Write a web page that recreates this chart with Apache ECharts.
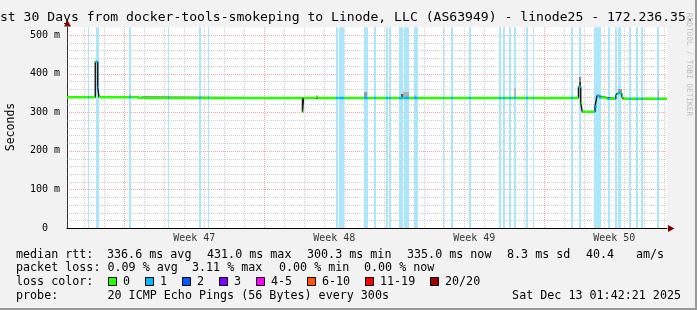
<!DOCTYPE html>
<html><head><meta charset="utf-8">
<style>html,body{margin:0;padding:0;background:#f2f2f2}#c{width:697px;height:310px}</style>
<script src="https://cdn.jsdelivr.net/npm/echarts@6/dist/echarts.min.js"></script>
</head><body><div id="c"></div>
<script>
// ---- data (x in days since start of the 30-day window, y in ms) ----
const xMaxDays = 30;
const yMaxMs = 520;
const weekLabels = ['Week 47', 'Week 48', 'Week 49', 'Week 50'];
const weekCenters = [6.365, 13.365, 20.365, 27.365];
const firstDayLine = 0.865;   // first midnight line after window start
const firstWeekLine = 2.865;  // first week boundary

// median RTT as step function: value from medianDays[i] until medianDays[i+1]
const medianDays = [0, 1.415, 1.535, 1.60, 3.565, 3.70, 3.815, 11.775, 11.825, 12.45, 12.55,
  25.575, 25.685, 25.765, 26.40, 26.50, 26.60, 26.975, 27.435, 27.515, 27.735, 27.815, 30];
const medianMs = [339, 431, 366, 339, 337, 338.5, 337, 300.3, 337, 340, 337,
  366, 324, 301, 314, 343, 338, 335, 342, 349, 341, 335, 335];

// periods with packet loss (1/20)
const lossStart = [1.05, 1.45, 3.10, 5.05, 6.60, 7.05, 13.45, 13.59, 14.87, 15.35, 15.95, 16.10, 16.60, 16.87, 17.34,
  18.82, 19.20, 20.10, 21.59, 21.82, 22.10, 22.34, 22.94, 23.29, 25.20, 25.60, 26.37, 27.05, 27.40, 27.57,
  28.10, 28.45, 28.70, 29.52];
const lossEnd = [1.10, 1.60, 3.20, 5.10, 6.72, 7.10, 13.54, 13.85, 15.05, 15.45, 16.04, 16.19, 16.79, 17.09, 17.54,
  18.87, 19.30, 20.19, 21.70, 21.90, 22.20, 22.44, 23.05, 23.35, 25.32, 25.70, 26.70, 27.17, 27.50, 27.72,
  28.20, 28.55, 28.80, 29.60];

// smoke (ping spread) pieces
const smokeStart = [3.10, 14.87, 16.70, 16.82, 17.34, 22.35, 25.575, 25.575, 27.56, 29.55];
const smokeEnd   = [3.20, 15.02, 16.82, 17.09, 17.45, 22.43, 25.685, 25.685, 27.73, 29.60];
const smokeLow   = [339, 338, 338, 338, 337, 338, 366, 378, 349, 336];
const smokeHigh  = [346, 352, 347, 352, 343, 362, 378, 391, 360, 357];
const smokeGray  = [176, 150, 90, 175, 175, 185, 60, 130, 150, 170];

// legend texts
const titleText = 'Last 30 Days from docker-tools-smokeping to Linode, LLC (AS63949) - linode25 - 172.236.35.';
const rttRow = ['median rtt:', '336.6 ms avg', '431.0 ms max', '300.3 ms min', '335.0 ms now', '8.3 ms sd', '40.4', 'am/s'];
const lossRow = ['packet loss:', '0.09 % avg', '3.11 % max', '0.00 % min', '0.00 % now'];
const lossColorLabels = ['0', '1', '2', '3', '4-5', '6-10', '11-19', '20/20'];
const lossColors = ['#26ff00', '#00b8ff', '#0059ff', '#7e00ff', '#ff00ff', '#ff5500', '#ff0000', '#a10000'];
const probeRow = ['probe:', '20 ICMP Echo Pings (56 Bytes) every 300s'];
const dateText = 'Sat Dec 13 01:42:21 2025';

// ---- layout ----
const MONO = "'DejaVu Sans Mono', monospace";
const rttX = [16, 107, 207, 307, 407, 507, 586, 636];
const lossX = [16, 107.5, 192, 279, 364];
const boxX = [108, 145, 182, 219, 256, 307, 365, 430];
const rowY = [254.5, 268, 282, 295.5];
const LEG = 11.7;

const chart = echarts.init(document.getElementById('c'), null, {renderer: 'canvas'});

const gridXData = [];
for (let k = 0; firstDayLine + k < xMaxDays; k++) {
  gridXData.push([firstDayLine + k, ((k - 2) % 7 === 0) ? 1 : 0]);
}
const gridYData = [];
for (let v = 20; v <= 500; v += 20) gridYData.push([v, v % 100 === 0 ? 1 : 0]);

const stepData = medianDays.map((d, i) => [d, medianMs[i]]);
const colorData = [];
for (let i = 0; i < medianDays.length - 1; i++) {
  colorData.push([medianDays[i], medianMs[i]], [medianDays[i + 1], medianMs[i]], [medianDays[i + 1], '-']);
}
const bandData = lossStart.map((s, i) => [s, lossEnd[i]]);
const smokeData = smokeStart.map((s, i) => [s, smokeEnd[i], smokeLow[i], smokeHigh[i], smokeGray[i]]);

const MINOR = 'rgba(143,143,143,0.42)';
const MAJOR = 'rgba(222,48,48,0.42)';

const graphics = [];
graphics.push({type: 'text', left: -15.8, top: 11.5, style: {text: titleText, font: '13.1px ' + MONO, fill: '#000'}});
graphics.push({type: 'text', x: 11, y: 127, rotation: Math.PI / 2, style: {text: 'Seconds', font: '11.5px ' + MONO, fill: '#000', align: 'center', verticalAlign: 'middle'}});
graphics.push({type: 'text', x: 689, y: 64.5, rotation: -Math.PI / 2, style: {text: 'RRDTOOL / TOBI OETIKER', font: '7.8px ' + MONO, fill: '#bdbdbd', align: 'center', verticalAlign: 'middle'}});
rttRow.forEach((t, i) => graphics.push({type: 'text', x: rttX[i], y: rowY[0], style: {text: t, font: LEG + 'px ' + MONO, fill: '#000', verticalAlign: 'middle'}}));
lossRow.forEach((t, i) => graphics.push({type: 'text', x: lossX[i], y: rowY[1], style: {text: t, font: LEG + 'px ' + MONO, fill: '#000', verticalAlign: 'middle'}}));
graphics.push({type: 'text', x: 16, y: rowY[2], style: {text: 'loss color:', font: LEG + 'px ' + MONO, fill: '#000', verticalAlign: 'middle'}});
lossColorLabels.forEach((t, i) => {
  graphics.push({type: 'rect', shape: {x: boxX[i] + 0.5, y: 277.5, width: 8, height: 8}, style: {fill: lossColors[i], stroke: '#000', lineWidth: 1}});
  graphics.push({type: 'text', x: boxX[i] + 15, y: rowY[2], style: {text: t, font: LEG + 'px ' + MONO, fill: '#000', verticalAlign: 'middle'}});
});
graphics.push({type: 'text', x: 16, y: rowY[3], style: {text: probeRow[0], font: LEG + 'px ' + MONO, fill: '#000', verticalAlign: 'middle'}});
graphics.push({type: 'text', x: 107.5, y: rowY[3], style: {text: probeRow[1], font: LEG + 'px ' + MONO, fill: '#000', verticalAlign: 'middle'}});
graphics.push({type: 'text', x: 681, y: rowY[3], style: {text: dateText, font: LEG + 'px ' + MONO, fill: '#000', align: 'right', verticalAlign: 'middle'}});
// arrows
graphics.push({type: 'polygon', shape: {points: [[67.5, 20], [64, 26.5], [71, 26.5]]}, style: {fill: '#800000'}});
graphics.push({type: 'polygon', shape: {points: [[674.5, 228.5], [668, 225], [668, 232]]}, style: {fill: '#800000'}});
// frame shading
graphics.push({type: 'rect', shape: {x: 695, y: 0, width: 2, height: 310}, style: {fill: '#999'}});
graphics.push({type: 'rect', shape: {x: 0, y: 308, width: 697, height: 2}, style: {fill: '#999'}});

const option = {
  animation: false,
  backgroundColor: '#f2f2f2',
  grid: {left: 67, right: 30, top: 27.3, bottom: 82, show: true, backgroundColor: '#fff', borderWidth: 0},
  xAxis: {type: 'value', min: 0, max: xMaxDays,
    axisLine: {show: true, lineStyle: {color: '#000', width: 1}}, axisTick: {show: false},
    axisLabel: {show: false}, splitLine: {show: false}},
  yAxis: {type: 'value', min: 0, max: yMaxMs, interval: 100,
    axisLine: {show: true, lineStyle: {color: '#333', width: 1}}, axisTick: {show: false}, splitLine: {show: false},
    axisLabel: {margin: 22, align: 'center', fontFamily: MONO, fontSize: 10, color: '#000',
      formatter: v => (v === 0 ? '0' : (v % 100 === 0 && v <= 500 ? v + ' m' : ''))}},
  visualMap: {show: false, type: 'piecewise', seriesIndex: 4, dimension: 0,
    pieces: lossStart.map((s, i) => ({gte: s, lte: lossEnd[i], color: lossColors[1]})),
    outOfRange: {color: lossColors[0]}},
  graphic: graphics,
  series: [
    { // vertical grid
      type: 'custom', z: 1, silent: true, data: gridXData,
      renderItem: (p, api) => {
        const a = api.coord([api.value(0), 0]), b = api.coord([api.value(0), yMaxMs]);
        const x = Math.round(a[0]) + 0.5;
        return {type: 'line', shape: {x1: x, y1: a[1], x2: x, y2: b[1]},
          style: {stroke: api.value(1) ? MAJOR : MINOR, lineWidth: 1, lineDash: [1, 1]}};
      }
    },
    { // horizontal grid
      type: 'custom', z: 1, silent: true, data: gridYData,
      renderItem: (p, api) => {
        const a = api.coord([0, api.value(0)]), b = api.coord([xMaxDays, api.value(0)]);
        const y = Math.round(a[1]) + 0.5;
        return {type: 'line', shape: {x1: a[0], y1: y, x2: b[0], y2: y},
          style: {stroke: api.value(1) ? MAJOR : MINOR, lineWidth: 1, lineDash: [1, 1]}};
      }
    },
    { // loss bands
      type: 'custom', z: 2, silent: true, data: bandData,
      renderItem: (p, api) => {
        const a = api.coord([api.value(0), yMaxMs]), b = api.coord([api.value(1), 0]);
        const x0 = Math.round(a[0]); let x1 = Math.round(b[0]); if (x1 <= x0) x1 = x0 + 1;
        return {type: 'rect', shape: {x: x0, y: a[1], width: x1 - x0, height: b[1] - a[1]}, style: {fill: '#abe6fb'}};
      }
    },
    { // smoke
      type: 'custom', z: 3, silent: true, data: smokeData,
      renderItem: (p, api) => {
        const a = api.coord([api.value(0), api.value(3)]), b = api.coord([api.value(1), api.value(2)]);
        const x0 = Math.round(a[0]); let x1 = Math.round(b[0]); if (x1 <= x0) x1 = x0 + 1;
        const g = api.value(4);
        return {type: 'rect', shape: {x: x0, y: a[1], width: x1 - x0, height: b[1] - a[1]}, style: {fill: `rgb(${g},${g},${g})`}};
      }
    },
    { // loss-coloured median (horizontal parts)
      type: 'line', z: 5, silent: true, data: colorData, showSymbol: false, connectNulls: false,
      lineStyle: {width: 2.5, cap: 'butt'}
    },
    { // dark median step line
      type: 'line', z: 4, silent: true, data: stepData, step: 'end', showSymbol: false,
      lineStyle: {width: 1.5, color: '#1a1a1a'}
    },
    { // week labels
      type: 'scatter', z: 6, silent: true, clip: false, symbolSize: 1,
      itemStyle: {color: 'rgba(0,0,0,0)'},
      data: weekCenters.map(d => [d, 0]),
      label: {show: true, position: 'bottom', distance: 4.5, fontFamily: MONO, fontSize: 10, color: '#000',
        formatter: p => weekLabels[p.dataIndex]}
    }
  ]
};
chart.setOption(option);
</script></body></html>
